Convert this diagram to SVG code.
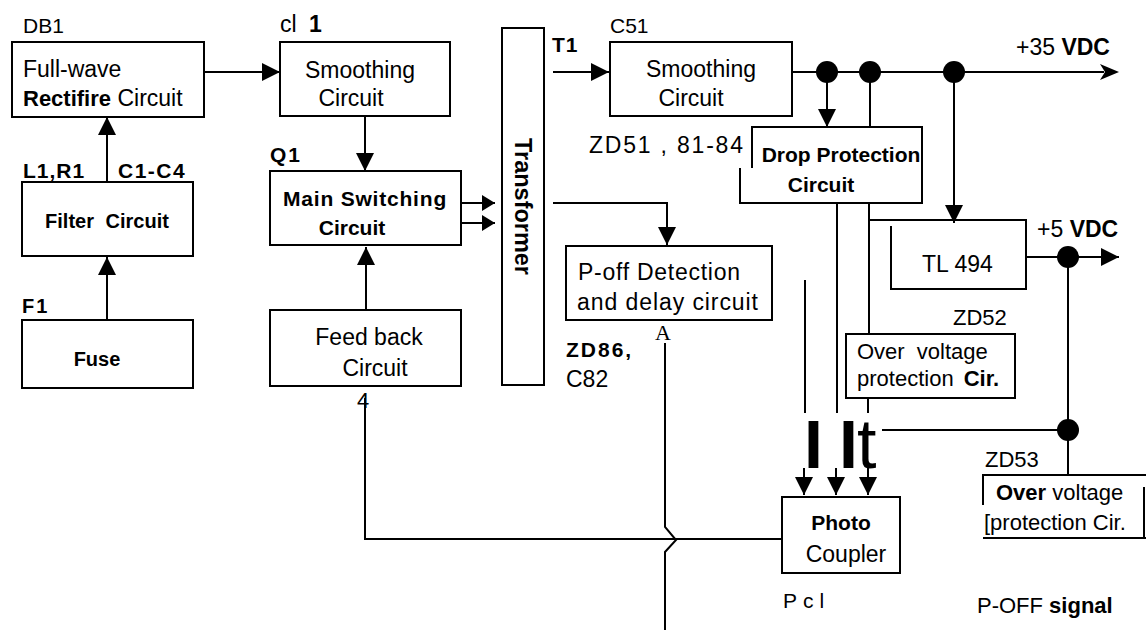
<svg xmlns="http://www.w3.org/2000/svg" width="1146" height="634" viewBox="0 0 1146 634">
<style>
svg{font-family:"Liberation Sans",Arial,sans-serif;font-size:23px}
text{fill:#000}
.b{font-weight:bold}
.box{fill:none;stroke:#000;stroke-width:2}
.c{fill:none;stroke:#000;stroke-width:2}
.m{text-anchor:middle}
</style>
<defs>
<marker id="ah" viewBox="0 0 18 18" refX="18" refY="9" markerWidth="18" markerHeight="18" markerUnits="userSpaceOnUse" orient="auto"><path d="M0,0 L18,9 L0,18 Z" fill="#000"/></marker>
<marker id="ahs" viewBox="0 0 13 16" refX="13" refY="8" markerWidth="13" markerHeight="16" markerUnits="userSpaceOnUse" orient="auto"><path d="M0,0 L13,8 L0,16 Z" fill="#000"/></marker>
</defs>
<rect width="1146" height="634" fill="#fff"/>

<g id="connectors">
<path class="c" d="M204,72 H280" marker-end="url(#ah)"/>
<path class="c" d="M107,182 V117" marker-end="url(#ah)"/>
<path class="c" d="M107,320 V257" marker-end="url(#ah)"/>
<path class="c" d="M365,116 V171" marker-end="url(#ah)"/>
<path class="c" d="M461,203 H495" marker-end="url(#ahs)"/>
<path class="c" d="M461,223 H495" marker-end="url(#ahs)"/>
<path class="c" d="M366,310 V247" marker-end="url(#ah)"/>
<path class="c" d="M553,72 H609" marker-end="url(#ah)"/>
<path class="c" d="M553,203 H667 V245" marker-end="url(#ah)"/>
<path class="c" d="M792,72 H1104"/>
<path d="M1100,64 L1119,72 L1100,80 L1105,72 Z" fill="#000"/>
<path class="c" d="M827,72 V127" marker-end="url(#ah)"/>
<path class="c" d="M870,72 V127"/>
<path class="c" d="M954,72 V223" marker-end="url(#ah)"/>
<path class="c" d="M1026,257 H1119" marker-end="url(#ah)"/>
<path class="c" d="M1068,257 V475"/>
<path class="c" d="M1068,430 H882"/>
<path class="c" d="M837,203 V413"/>
<path class="c" d="M836,468 V495" marker-end="url(#ah)"/>
<path class="c" d="M805,280 V413"/>
<path class="c" d="M804,468 V495" marker-end="url(#ah)"/>
<path class="c" d="M869,203 V334"/>
<path class="c" d="M868,398 V413"/>
<path class="c" d="M868,468 V495" marker-end="url(#ah)"/>
<path class="c" d="M365,398 V539 H782"/>
<path class="c" d="M665,343 V527 L676,540 L665,552 V630"/>
<circle cx="827" cy="72" r="11"/>
<circle cx="870" cy="72" r="11"/>
<circle cx="954" cy="72" r="11"/>
<circle cx="1068" cy="257" r="11"/>
<circle cx="1068" cy="430" r="11"/>
<text y="468" font-size="70"><tspan x="804" class="b" font-size="68">I</tspan><tspan x="839" class="b" font-size="68">I</tspan><tspan x="857">t</tspan></text>
</g>

<g id="db1">
<rect class="box" x="12" y="42" width="192" height="75"/>
<text x="23" y="33" font-size="21">DB1</text>
<text x="23" y="77">Full-wave</text>
<text x="23" y="106"><tspan class="b" font-size="22">Rectifire</tspan> Circuit</text>
</g>

<g id="filter">
<rect class="box" x="22" y="182" width="171" height="74"/>
<text x="23" y="178" class="b" font-size="21" letter-spacing="1">L1,R1</text>
<text x="118" y="178" class="b" font-size="21" letter-spacing="1.5">C1-C4</text>
<text x="107" y="228" class="b m" font-size="20" word-spacing="6">Filter Circuit</text>
</g>

<g id="fuse">
<rect class="box" x="22" y="320" width="171" height="68"/>
<text x="22" y="313" class="b" font-size="20" letter-spacing="2">F1</text>
<text x="97" y="366" class="b m" font-size="20">Fuse</text>
</g>

<g id="smoothing1">
<rect class="box" x="280" y="42" width="170" height="74"/>
<text x="280" y="32" font-size="23" word-spacing="6">cl <tspan class="b">1</tspan></text>
<text x="360" y="78" class="m">Smoothing</text>
<text x="351" y="106" class="m">Circuit</text>
</g>

<g id="mainswitch">
<rect class="box" x="270" y="171" width="191" height="74"/>
<text x="270" y="162" class="b" font-size="21" letter-spacing="2">Q1</text>
<text x="365" y="206" class="b m" font-size="21" letter-spacing="0.8">Main Switching</text>
<text x="352" y="235" class="b m" font-size="21">Circuit</text>
</g>

<g id="feedback">
<rect class="box" x="270" y="310" width="191" height="76"/>
<text x="369" y="345" class="m">Feed back</text>
<text x="375" y="376" class="m">Circuit</text>
<text x="357" y="408" font-size="22">4</text>
</g>

<g id="transformer">
<rect class="box" x="502" y="28" width="42" height="357"/>
<text transform="translate(515,138) rotate(90)" class="b" font-size="24" textLength="137" lengthAdjust="spacingAndGlyphs">Transformer</text>
</g>

<g id="smoothing2">
<rect class="box" x="610" y="42" width="182" height="74"/>
<text x="552" y="52" class="b" font-size="21" letter-spacing="1">T1</text>
<text x="610" y="33" font-size="21">C51</text>
<text x="701" y="77" class="m">Smoothing</text>
<text x="691" y="106" class="m">Circuit</text>
</g>

<g id="dropprot">
<path class="box" d="M752,168 V127 H922 V203 H740 V168"/>
<text x="589" y="153" font-size="23" textLength="154" lengthAdjust="spacing">ZD51 , 81-84</text>
<text x="841" y="162" class="b m" font-size="21">Drop Protection</text>
<text x="821" y="192" class="b m" font-size="21">Circuit</text>
</g>

<g id="voltages">
<text x="1016" y="55">+35 <tspan class="b">VDC</tspan></text>
<text x="1037" y="237">+5 <tspan class="b">VDC</tspan></text>
</g>

<g id="tl494">
<path class="box" d="M869,220 H1026 V289 H891 V226"/>
<text x="922" y="272" font-size="23">TL 494</text>
</g>

<g id="poff">
<rect class="box" x="566" y="246" width="206" height="74"/>
<text x="578" y="280" textLength="162" lengthAdjust="spacing">P-off Detection</text>
<text x="577" y="310" textLength="181" lengthAdjust="spacing">and delay circuit</text>
<text x="663" y="340" class="m" font-size="22" style="font-family:'Liberation Serif','Times New Roman',serif">A</text>
<text x="566" y="357" class="b" font-size="21" letter-spacing="2">ZD86,</text>
<text x="566" y="387">C82</text>
</g>

<g id="ovp1">
<rect class="box" x="846" y="334" width="169" height="64"/>
<text x="953" y="325" font-size="22">ZD52</text>
<text x="857" y="359" font-size="22" word-spacing="6">Over voltage</text>
<text x="857" y="386" font-size="22" word-spacing="4">protection <tspan class="b">Cir.</tspan></text>
</g>

<g id="photocoupler">
<rect class="box" x="782" y="497" width="118" height="76"/>
<text x="841" y="530" class="b m" font-size="21">Photo</text>
<text x="846" y="562" class="m">Coupler</text>
<text x="783" y="608" font-size="21" letter-spacing="6">Pcl</text>
</g>

<g id="ovp2">
<path class="box" d="M983,505 V475 H1146 M983,538 H1146 M1144,487 V538"/>
<text x="985" y="467" font-size="22">ZD53</text>
<text x="996" y="500" font-size="22"><tspan class="b">Over</tspan> voltage</text>
<text x="984" y="530" font-size="22">[protection Cir.</text>
</g>

<g id="poffsignal">
<text x="977" y="613" font-size="22">P-OFF <tspan class="b">signal</tspan></text>
</g>
</svg>
